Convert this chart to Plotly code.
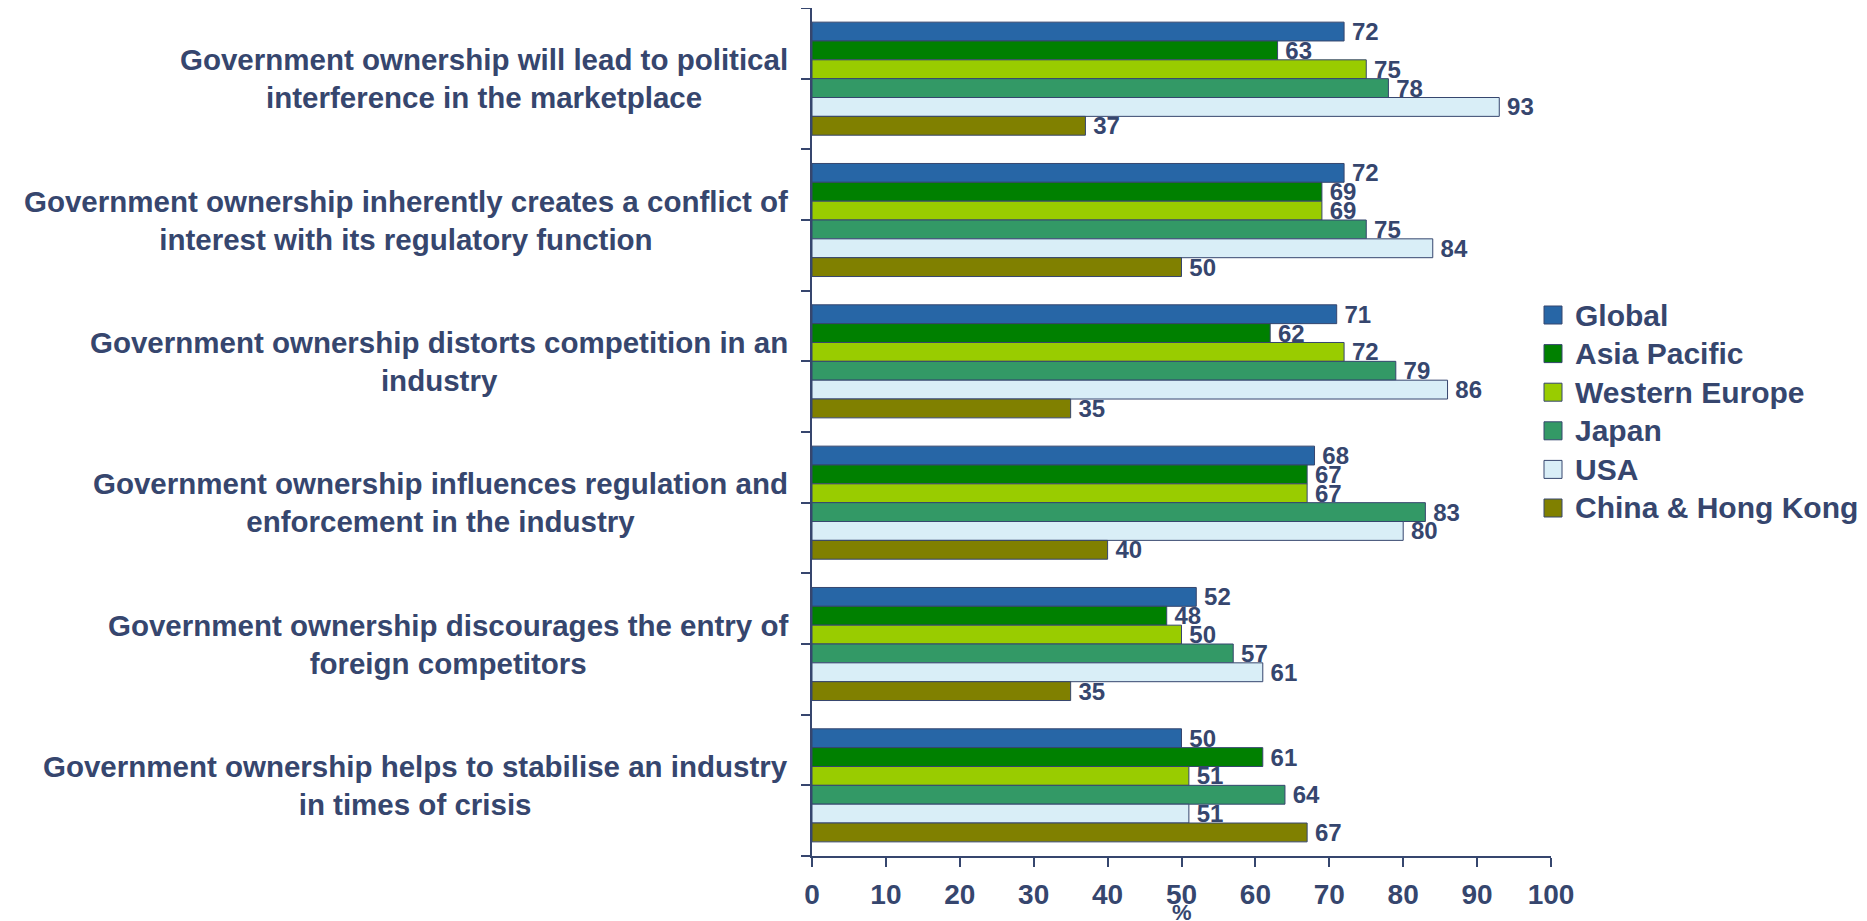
import plotly.graph_objects as go

categories = [
    "Government ownership will lead to political<br>interference in the marketplace",
    "Government ownership inherently creates a conflict of<br>interest with its regulatory function",
    "Government ownership distorts competition in an<br>industry",
    "Government ownership influences regulation and<br>enforcement in the industry",
    "Government ownership discourages the entry of<br>foreign competitors",
    "Government ownership helps to stabilise an industry<br>in times of crisis",
]
series_names = ["Global", "Asia Pacific", "Western Europe", "Japan", "USA", "China & Hong Kong"]
global_vals = [72, 72, 71, 68, 52, 50]
asia_pacific = [63, 69, 62, 67, 48, 61]
western_europe = [75, 69, 72, 67, 50, 51]
japan = [78, 75, 79, 83, 57, 64]
usa = [93, 84, 86, 80, 61, 51]
china_hk = [37, 50, 35, 40, 35, 67]
series_values = [global_vals, asia_pacific, western_europe, japan, usa, china_hk]
colors = ["#2766A6", "#008000", "#99CC00", "#339966", "#D9EEF7", "#808000"]
x_ticks = [0, 10, 20, 30, 40, 50, 60, 70, 80, 90, 100]
x_title = "%"

NAVY = "#36466E"
FONT = "Liberation Sans, Arial, sans-serif"

W, H = 1867, 921
ML, MR, MT, MB = 804, 324, 0, 73
PW, PH = W - ML - MR, H - MT - MB


def px_to_paper_x(px):
    return (px - ML) / PW


def px_to_paper_y(py):
    return (H - MB - py) / PH


positions = list(range(len(categories)))

fig = go.Figure()
for name, vals, col in zip(series_names, series_values, colors):
    fig.add_trace(go.Bar(
        name=name, y=positions, x=vals, orientation="h",
        marker=dict(color=col, line=dict(color=NAVY, width=1)),
        text=["\u2009" + str(v) for v in vals], textposition="outside",
        textfont=dict(family=FONT, size=24, color=NAVY, weight="bold"),
        cliponaxis=False, constraintext="none",
        showlegend=False,
    ))

# category labels (centred lines, right-aligned block)
for i, cat in enumerate(categories):
    fig.add_annotation(
        x=0, xref="paper", y=i, yref="y", text=cat, showarrow=False,
        xanchor="right", yanchor="middle", align="center", xshift=-22,
        font=dict(family=FONT, size=29.5, color=NAVY, weight="bold"),
    )

# axis title
fig.add_annotation(
    x=0.5, xref="paper", y=0, yref="paper", text=x_title, showarrow=False,
    xanchor="center", yanchor="middle", yshift=-56,
    font=dict(family=FONT, size=22, color=NAVY, weight="bold"),
)

# legend (square swatches + labels)
LEG_SQ_X0, LEG_SQ_X1 = 1536, 1554
LEG_TEXT_X = 1565
LEG_Y0, LEG_DY, LEG_HALF = 307, 38.6, 9
for k, (name, col) in enumerate(zip(series_names, colors)):
    cy = LEG_Y0 + k * LEG_DY
    fig.add_shape(
        type="rect", xref="paper", yref="paper",
        x0=px_to_paper_x(LEG_SQ_X0), x1=px_to_paper_x(LEG_SQ_X1),
        y0=px_to_paper_y(cy + LEG_HALF), y1=px_to_paper_y(cy - LEG_HALF),
        fillcolor=col, line=dict(color=NAVY, width=1),
    )
    fig.add_annotation(
        x=px_to_paper_x(LEG_TEXT_X), xref="paper", y=px_to_paper_y(cy), yref="paper",
        text=name, showarrow=False, xanchor="left", yanchor="middle",
        font=dict(family=FONT, size=30, color=NAVY, weight="bold"),
    )

half_ticks = [p / 2 - 0.5 for p in range(2 * len(categories) + 1)]

fig.update_layout(
    width=W, height=H,
    margin=dict(l=ML, r=MR, t=MT, b=MB),
    paper_bgcolor="white", plot_bgcolor="white",
    barmode="group", bargap=0.2, bargroupgap=0,
    showlegend=False,
    xaxis=dict(
        range=[0, 100], tickvals=x_ticks, ticks="outside", ticklen=9, tickwidth=1.5,
        tickcolor=NAVY, showline=True, linecolor=NAVY, linewidth=1.5,
        showgrid=False, zeroline=False, automargin=False,
        tickfont=dict(family=FONT, size=28, color=NAVY, weight="bold"),
        ticklabelstandoff=4,
    ),
    yaxis=dict(
        range=[len(categories) - 0.5, -0.5], tickvals=half_ticks,
        ticktext=["" for _ in half_ticks], ticks="outside", ticklen=9, tickwidth=1.5,
        tickcolor=NAVY, showline=True, linecolor=NAVY, linewidth=1.5,
        showgrid=False, zeroline=False, automargin=False,
    ),
)

fig.write_html("out.html")
